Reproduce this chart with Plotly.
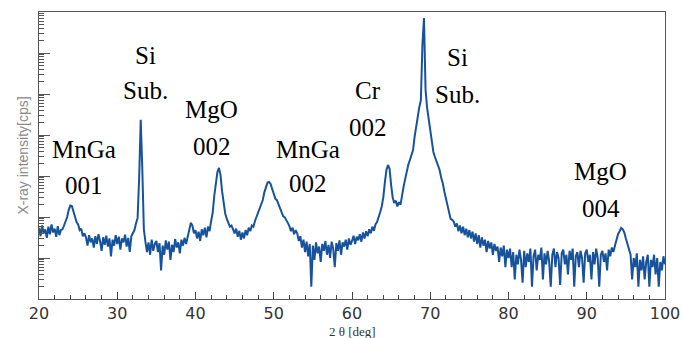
import numpy as np
import plotly.graph_objects as go

# Scan grid: 2theta from 20 to 100 deg, 0.2 deg step
two_theta = np.round(np.arange(20.0, 100.0001, 0.2), 1)

# Intensity [cps] (one row = one degree, 5 points)
intensity = [
    55, 34, 62, 40, 50,            # 20
    31, 58, 38, 66, 42,            # 21
    52, 33, 60, 36, 48,            # 22
    50, 62, 75, 100, 150,          # 23
    190, 185, 130, 95, 75,         # 24
    66, 48, 52, 34, 40,            # 25
    32, 20, 36, 24, 30,            # 26
    18, 34, 22, 38, 26,            # 27
    15, 32, 21, 35, 19,            # 28
    30, 11, 28, 20, 36,            # 29
    22, 33, 16, 30, 24,            # 30
    37, 19, 31, 14, 34,            # 31
    40, 48, 70, 95, 900,           # 32
    23400, 1500, 50, 25, 14,       # 33
    24, 12, 28, 15, 22,            # 34
    26, 14, 23, 5, 20,             # 35
    12, 27, 16, 25, 9,             # 36
    21, 14, 29, 18, 24,            # 37
    13, 28, 20, 31, 22,            # 38
    35, 50, 72, 62, 40,            # 39
    48, 30, 44, 26, 50,            # 40
    36, 55, 32, 58, 45,            # 41
    80, 130, 330, 700, 1250,       # 42
    1580, 1050, 420, 200, 120,     # 43
    90, 70, 58, 62, 48,            # 44
    40, 52, 33, 46, 28,            # 45
    42, 30, 48, 36, 55,            # 46
    45, 62, 58, 80, 100,           # 47
    120, 150, 190, 260, 400,       # 48
    560, 690, 713, 640, 480,       # 49
    360, 280, 257, 200, 160,       # 50
    130, 105, 98, 80, 72,          # 51
    60, 45, 55, 38, 48,            # 52
    40, 26, 34, 18, 28,            # 53
    14, 25, 11, 22, 2,             # 54
    20, 9, 24, 13, 19,             # 55
    8, 22, 15, 26, 12,             # 56
    21, 10, 25, 17, 6,             # 57
    23, 15, 27, 12, 24,            # 58
    19, 28, 16, 30, 21,            # 59
    26, 35, 22, 33, 27,            # 60
    38, 25, 42, 30, 45,            # 61
    34, 50, 40, 58, 46,            # 62
    66, 75, 95, 130, 180,          # 63
    300, 700, 1400, 1860, 1500,    # 64
    600, 300, 220, 250, 180,       # 65
    230, 200, 390, 560, 850,       # 66
    1300, 1900, 2450, 3300, 4300,  # 67
    9000, 17000, 30900, 48000, 71000,        # 68
    1600000, 7100000, 126000, 45700, 23400,  # 69
    13200, 6300, 3850, 2900, 2200,           # 70
    1700, 1400, 900, 670, 420,     # 71
    280, 175, 130, 90, 85,         # 72
    78, 58, 70, 45, 62,            # 73
    40, 58, 36, 52, 32,            # 74
    48, 30, 44, 25, 40,            # 75
    22, 36, 18, 32, 20,            # 76
    28, 14, 26, 17, 24,            # 77
    12, 22, 15, 19, 8,             # 78
    18, 11, 20, 6, 16,             # 79
    10, 17, 6, 14, 3,              # 80
    12, 7, 16, 9, 2.5,             # 81
    15, 6, 13, 8, 17,              # 82
    2, 11, 16, 5, 12,              # 83
    9, 18, 3, 13, 7,               # 84
    15, 8, 2, 12, 17,              # 85
    6, 14, 10, 2.2, 13,            # 86
    16, 7, 12, 4, 15,              # 87
    9, 17, 2, 11, 14,              # 88
    6, 15, 10, 2.5, 13,            # 89
    16, 8, 12, 3, 14,              # 90
    7, 17, 10, 2, 12,              # 91
    15, 8, 13, 5, 16,              # 92
    11, 18, 14, 20, 30,            # 93
    38, 45, 54, 50, 42,            # 94
    30, 22, 16, 12, 3,             # 95
    10, 6, 13, 2, 9,               # 96
    5, 11, 3, 8, 12,               # 97
    2, 9, 6, 12, 4,                # 98
    10, 2, 8, 5, 11,               # 99
    7,                             # 100
]

x_tick_values = [20, 30, 40, 50, 60, 70, 80, 90, 100]
x_tick_labels = ["20", "30", "40", "50", "60", "70", "80", "90", "100"]
y_decades = [10, 100, 1000, 10000, 100000, 1000000]

peak_names = ["MnGa", "Si", "MgO", "MnGa", "Cr", "Si", "MgO"]
peak_sub = ["001", "Sub.", "002", "002", "002", "Sub.", "004"]

fig = go.Figure()
fig.add_trace(go.Scatter(
    x=two_theta, y=intensity, mode="lines",
    line=dict(color="#16539c", width=2),
    showlegend=False, hoverinfo="skip",
))

minor_vals = [k * 10 ** d for d in range(0, 7) for k in range(2, 10)]

fig.update_layout(
    width=683, height=338,
    margin=dict(l=39, r=18, t=12, b=39, autoexpand=False),
    paper_bgcolor="white", plot_bgcolor="white",
    xaxis=dict(
        range=[20, 100], showgrid=False, zeroline=False, automargin=False,
        tickmode="array", tickvals=x_tick_values, ticktext=x_tick_labels,
        ticks="inside", ticklen=7, tickcolor="#444", tickwidth=1,
        minor=dict(dtick=2, tick0=20, ticks="inside", ticklen=4, tickcolor="#444", showgrid=False),
        showline=True, linecolor="#555", linewidth=1, mirror=True,
        tickfont=dict(family="DejaVu Sans", size=16, color="#333"),
    ),
    yaxis=dict(
        type="log", range=[0, 7], showgrid=False, zeroline=False, automargin=False,
        tickmode="array", tickvals=y_decades, showticklabels=False,
        ticks="inside", ticklen=11, tickcolor="#555", tickwidth=1,
        minor=dict(tickmode="array", tickvals=minor_vals, ticks="inside", ticklen=5,
                   tickcolor="#555", showgrid=False),
        showline=True, linecolor="#555", linewidth=1, mirror=True,
    ),
)

# axis titles
fig.add_annotation(text="X-ray intensity[cps]", xref="paper", yref="paper",
                   x=-0.027, y=0.5, textangle=-90, showarrow=False,
                   xanchor="center", yanchor="middle",
                   font=dict(family="Liberation Sans", size=14, color="#8a8a8a"))
fig.add_annotation(text="2 θ [deg]", xref="paper", yref="paper",
                   x=0.5, y=-0.113, showarrow=False, xanchor="center", yanchor="middle",
                   font=dict(family="Liberation Serif", size=13, color="#333"))

# peak labels (name line, index line)
label_pos = [
    (25.75, 0.522, 0.397),
    (33.67, 0.850, 0.728),
    (42.1, 0.659, 0.530),
    (54.4, 0.522, 0.404),
    (62.05, 0.728, 0.599),
    (73.45, 0.843, 0.711),
    (91.82, 0.443, 0.314),
]
for name, sub, (px, y1, y2) in zip(peak_names, peak_sub, label_pos):
    for txt, yy in ((name, y1), (sub, y2)):
        fig.add_annotation(text=txt, x=px, xref="x", y=yy, yref="paper",
                           showarrow=False, xanchor="center", yanchor="middle",
                           font=dict(family="Liberation Serif", size=25, color="black"))

fig.write_html(
    "out.html",
    config={"displayModeBar": False},
    post_script="document.body.style.margin='0px';document.body.style.overflow='hidden';",
)
